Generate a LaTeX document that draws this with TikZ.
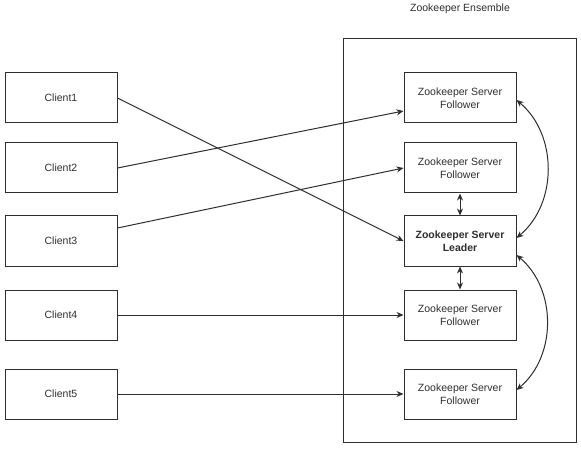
\documentclass[tikz,border=0pt]{standalone}
\usepackage{fontspec}
\setmainfont{Liberation Sans}
\usetikzlibrary{arrows.meta}
\definecolor{ink}{HTML}{2E2E2E}
\begin{document}
\begin{tikzpicture}[x=1pt,y=-1pt,
  every node/.style={font=\fontsize{10.5}{12.5}\selectfont, text=ink},
  box/.style={draw=ink, line width=1pt, minimum width=112pt, minimum height=50pt, inner sep=0pt, align=center},
  conn/.style={draw=ink, line width=1pt, -{Stealth[length=7pt,width=6pt]}},
  dconn/.style={draw=ink, line width=1pt, {Stealth[length=7pt,width=6pt]}-{Stealth[length=7pt,width=6pt]}}]
\useasboundingbox (0,0) rectangle (581,449);
% ensemble
\node[draw=ink, line width=1pt, minimum width=233pt, minimum height=404pt, inner sep=0pt] (ens) at (460,240.5) {};
\node (title) at (460,9) {Zookeeper Ensemble};
% clients
\node[box] (c1) at (61,98) {Client1};
\node[box] (c2) at (61,168) {Client2};
\node[box] (c3) at (61,241) {Client3};
\node[box] (c4) at (61,315) {Client4};
\node[box] (c5) at (61,394) {Client5};
% servers
\node[box] (s1) at (460,98) {Zookeeper Server\\Follower};
\node[box] (s2) at (460,168) {Zookeeper Server\\Follower};
\node[box] (ld) at (460,241) {\bfseries Zookeeper Server\\\bfseries Leader};
\node[box] (s4) at (460,315) {Zookeeper Server\\Follower};
\node[box] (s5) at (460,394) {Zookeeper Server\\Follower};
% client connections
\draw[conn] (c1.east) -- (ld.west);
\draw[conn] (c2.east) -- ([yshift=-13pt]s1.west);
\draw[conn] ([yshift=13pt]c3.east) -- (s2.west);
\draw[conn] (c4.east) -- (s4.west);
\draw[conn] (c5.east) -- (s5.west);
% server links
\draw[dconn] (s2.south) -- (ld.north);
\draw[dconn] (ld.south) -- (s4.north);
\draw[dconn] ([yshift=-2pt]s1.east) to[bend left=50] ([yshift=3pt]ld.east);
\draw[dconn] ([yshift=-14pt]ld.east) to[bend left=50] ([yshift=4pt]s5.east);
\end{tikzpicture}
\end{document}
